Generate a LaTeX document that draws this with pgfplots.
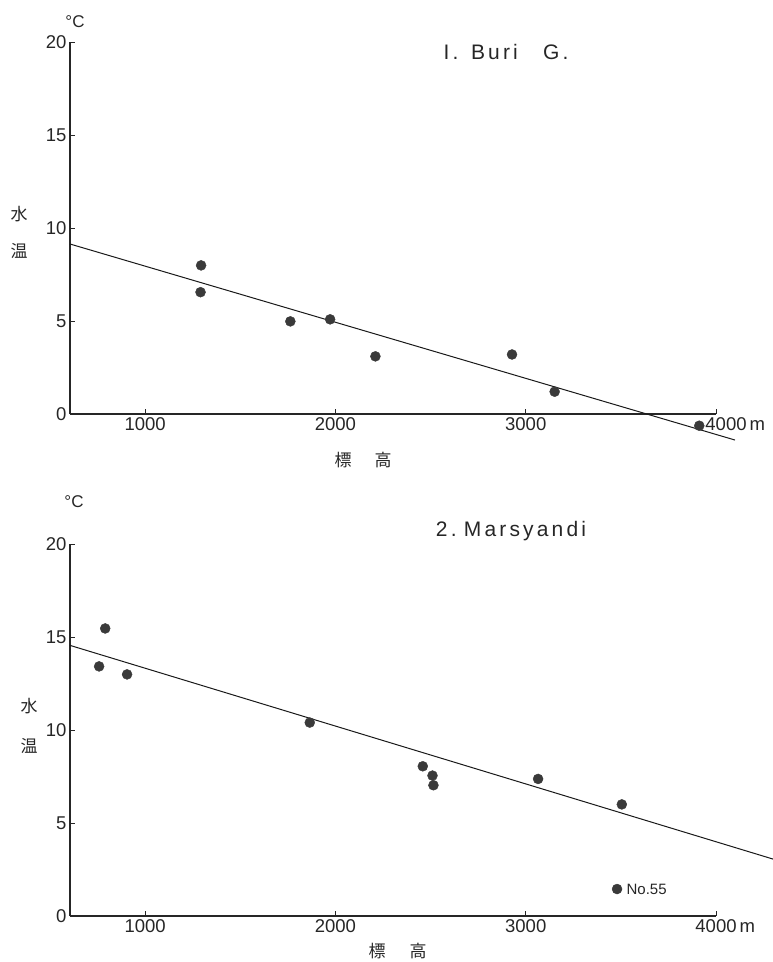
\documentclass[border=0pt]{standalone}
\usepackage{fontspec}
\setmainfont{Liberation Sans}
\newfontfamily\jp{Noto Sans CJK JP}
\usepackage{pgfplots}
\pgfplotsset{compat=1.18}
\definecolor{dot}{HTML}{3A3A3A}
\pgfplotsset{
  panel/.style={
    scale only axis, width=646pt, height=372pt,
    xmin=605, xmax=4000, ymin=0, ymax=20,
    axis x line=bottom, axis y line=left,
    axis line style={-, line width=1.3pt, black!85},
    clip=false,
    xtick={1000,2000,3000,4000}, ytick={0,5,10,15,20},
    tick align=inside, major tick length=5pt,
    tick style={black!85, line width=1pt},
    ticklabel style={font=\fontsize{18.5}{18.5}\selectfont, text=black!85},
    /pgf/number format/assume math mode=true,
    /pgf/number format/1000 sep={},
    scaled ticks=false,
  },
  dots/.style={only marks, mark=*, mark size=5pt, mark options={fill=dot, draw=dot}},
  fit/.style={black!90, line width=1pt, no marks},
}
\begin{document}
\begin{tikzpicture}[x=1pt,y=1pt]
\useasboundingbox (0pt,0pt) rectangle (773pt,-962pt);
% ---------- Panel 1 ----------
\begin{axis}[panel, at={(70pt,-414pt)}, anchor=south west,
  xticklabels={1000,2000,3000,\hspace{20pt}4000\rlap{\,m}}]
\addplot[fit] coordinates {(605,9.14) (4100,-1.40)};
\addplot[dots] coordinates {
(1294,7.99) (1291,6.55) (1763,4.98) (1972,5.09) (2210,3.10)
(2928,3.20) (3152,1.20) (3912,-0.63)};
\end{axis}
% ---------- Panel 2 ----------
\begin{axis}[panel, at={(70pt,-916pt)}, anchor=south west,
  xticklabels={1000,2000,3000,4000\rlap{\,m}}]
\addplot[fit] coordinates {(605,14.55) (4300,3.06)};
\addplot[dots] coordinates {
(790,15.46) (758,13.42) (905,12.99) (1865,10.40) (2459,8.05)
(2510,7.55) (2515,7.03) (3065,7.37) (3505,6.00) (3480,1.45)};
\node[anchor=west, font=\fontsize{15}{15}\selectfont, text=black!85] at (axis cs:3480,1.45) [xshift=6pt] {No.55};
\end{axis}
% ---------- Labels ----------
\tikzset{t/.style={font=\fontsize{21}{21}\selectfont\addfontfeature{LetterSpace=15}, text=black!85}}
\node[t] at (506pt,-52pt) {I.\hspace{0.6em}Buri\hspace{1.2em}G.};
\node[t] at (511pt,-531pt) {2.\hspace{0.35em}Marsyandi};
\tikzset{u/.style={font=\fontsize{17}{17}\selectfont, text=black!85}}
\node[u] at (75pt,-22pt) {°C};
\node[u] at (74pt,-502pt) {°C};
\tikzset{j/.style={font=\jp\fontsize{17}{17}\selectfont, text=black!85}}
\node[j] at (19pt,-214pt) {水};
\node[j] at (19pt,-251pt) {温};
\node[j] at (343pt,-460pt) {標};
\node[j] at (383pt,-460pt) {高};
\node[j] at (29pt,-706pt) {水};
\node[j] at (29pt,-746pt) {温};
\node[j] at (377pt,-951pt) {標};
\node[j] at (418pt,-951pt) {高};
\end{tikzpicture}
\end{document}
